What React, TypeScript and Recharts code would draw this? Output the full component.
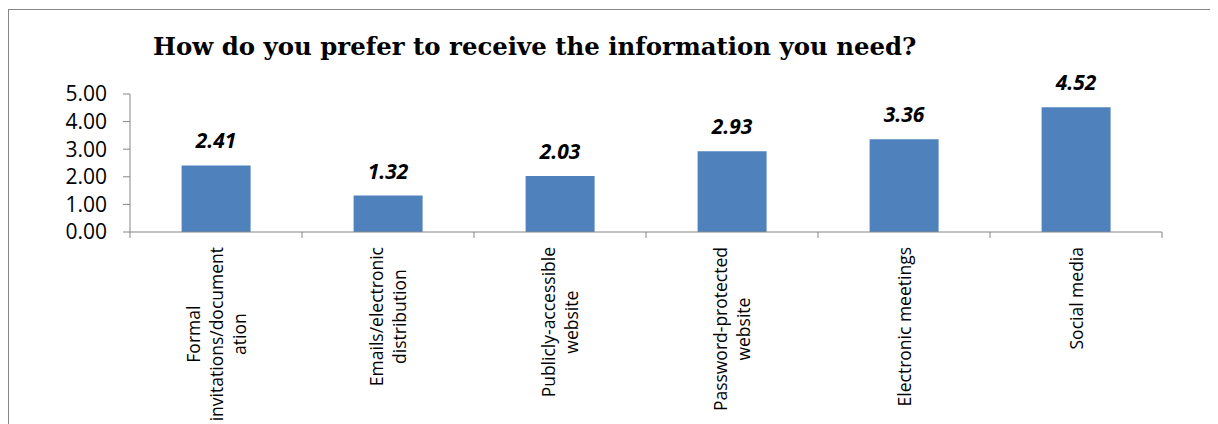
import { Bar, BarChart, LabelList, XAxis, YAxis } from "recharts"

const title = "How do you prefer to receive the information you need?"

const categories = [
  "Formal\ninvitations/document\nation",
  "Emails/electronic\ndistribution",
  "Publicly-accessible\nwebsite",
  "Password-protected\nwebsite",
  "Electronic meetings",
  "Social media",
]

const scores = [2.41, 1.32, 2.03, 2.93, 3.36, 4.52]

const yTicks = [0, 1, 2, 3, 4, 5]

const data = categories.map((name, i) => ({ name, score: scores[i] }))

const AXIS_GREY = "#868686"
const BAR_BLUE = "#4F81BD"
const LABEL_FONT_SIZE = 17.5

let ctx: CanvasRenderingContext2D | null = null
function textWidth(s: string) {
  if (!ctx) ctx = document.createElement("canvas").getContext("2d")
  if (!ctx) return s.length * 9
  ctx.font = `${LABEL_FONT_SIZE}px "Open Sans"`
  return ctx.measureText(s).width
}

// rotated, centred multi-line category labels plus the boundary tick marks
function CategoryTick(props: any) {
  const { x, y, payload, index, width, visibleTicksCount } = props
  const lines = String(payload.value).split("\n")
  const longest = Math.max(...lines.map(textWidth))
  const cy = y + 15 + longest / 2
  const step = width / visibleTicksCount
  return (
    <g>
      <line x1={x - step / 2} x2={x - step / 2} y1={y} y2={y + 6} stroke={AXIS_GREY} />
      {index === visibleTicksCount - 1 && (
        <line x1={x + step / 2} x2={x + step / 2} y1={y} y2={y + 6} stroke={AXIS_GREY} />
      )}
      {lines.map((line, i) => {
        const lx = x + (i - (lines.length - 1) / 2) * 23
        return (
          <text
            key={i}
            x={lx}
            y={cy}
            transform={`rotate(-90 ${lx} ${cy})`}
            textAnchor="middle"
            dominantBaseline="central"
            fontFamily="Open Sans"
            fontSize={LABEL_FONT_SIZE}
            fill="#000"
          >
            {line}
          </text>
        )
      })}
    </g>
  )
}

function ValueLabel(props: any) {
  const { x, y, width, value } = props
  return (
    <text
      x={x + width / 2}
      y={y - 17}
      textAnchor="middle"
      fontFamily="Open Sans"
      fontWeight="bold"
      fontStyle="italic"
      fontSize={21}
      fill="#000"
    >
      {Number(value).toFixed(2)}
    </text>
  )
}

export default function App() {
  return (
    <div style={{ position: "relative", width: 1210, height: 416, overflow: "hidden" }}>
      <div
        style={{
          position: "absolute",
          left: 0,
          top: 1,
          width: 1400,
          height: 600,
          borderTop: `1px solid ${AXIS_GREY}`,
          borderLeft: `1px solid ${AXIS_GREY}`,
        }}
      />
      <svg style={{ position: "absolute", left: 0, top: 0 }} width={1210} height={60}>
        <text x={145} y={47} fontFamily="DejaVu Serif" fontWeight="bold" fontSize={24.4} fill="#000">
          {title}
        </text>
      </svg>
      <div style={{ position: "absolute", left: 0, top: 0 }}>
        <BarChart
          width={1210}
          height={416}
          data={data}
          margin={{ top: 86, right: 56, left: 0, bottom: 12 }}
          barCategoryGap="30%"
        >
          <XAxis
            dataKey="name"
            interval={0}
            height={180}
            tickSize={0}
            tickMargin={0}
            tickLine={false}
            axisLine={{ stroke: AXIS_GREY }}
            tick={<CategoryTick />}
          />
          <YAxis
            width={122}
            domain={[0, 5]}
            ticks={yTicks}
            interval={0}
            tickFormatter={(v: number) => v.toFixed(2)}
            tickSize={7}
            tickMargin={16}
            axisLine={{ stroke: AXIS_GREY }}
            tickLine={{ stroke: AXIS_GREY }}
            tick={{ fontFamily: "Open Sans", fontSize: 21, fill: "#000" }}
          />
          <Bar dataKey="score" fill={BAR_BLUE} isAnimationActive={false}>
            <LabelList dataKey="score" content={<ValueLabel />} />
          </Bar>
        </BarChart>
      </div>
    </div>
  )
}
